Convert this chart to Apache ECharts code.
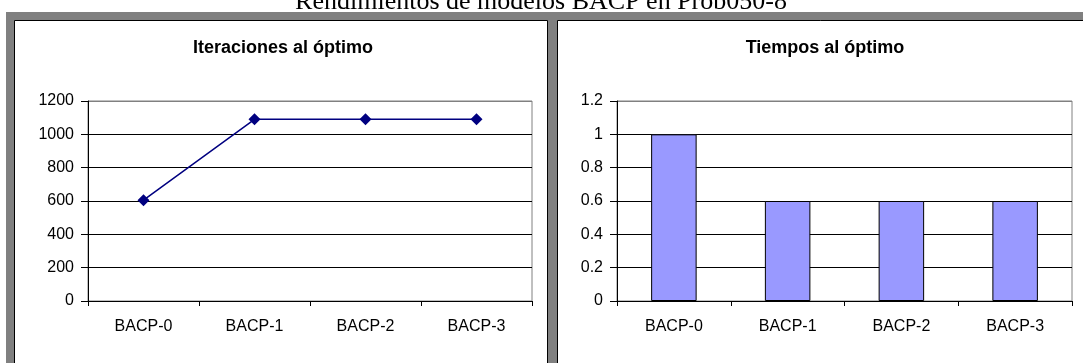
<!DOCTYPE html>
<html><head><meta charset="utf-8">
<script src="https://cdn.jsdelivr.net/npm/echarts@6/dist/echarts.min.js"></script>
<style>html,body{margin:0;padding:0;background:#fff}#c{width:1083px;height:363px}</style>
</head><body><div id="c"></div>
<script>
const categories = ['BACP-0','BACP-1','BACP-2','BACP-3'];
const iteraciones = [605, 1090, 1090, 1090];
const tiempos = [1, 0.6, 0.6, 0.6];
const mainTitle = 'Rendimientos de modelos BACP en Prob050-8';
const leftTitle = 'Iteraciones al óptimo';
const rightTitle = 'Tiempos al óptimo';

const chart = echarts.init(document.getElementById('c'), null, {renderer:'canvas'});
const font = 'Arial, "Liberation Sans", sans-serif';
const gridLineColors = ['#000','#000','#000','#000','#000','#000','#808080'];
function xAxis(gi){
  return {type:'category', gridIndex:gi, data:categories,
    axisLine:{lineStyle:{color:'#000',width:1}},
    axisTick:{show:true, alignWithLabel:false, length:5, lineStyle:{color:'#000'}},
    axisLabel:{color:'#000', fontFamily:font, fontSize:16, margin:18},
    splitLine:{show:false}};
}
function yAxis(gi,max,interval){
  return {type:'value', gridIndex:gi, min:0, max:max, interval:interval,
    axisLine:{show:true, lineStyle:{color:'#000',width:1}},
    axisTick:{show:true, length:7, lineStyle:{color:'#000'}},
    axisLabel:{color:'#000', fontFamily:font, fontSize:16, margin:14, formatter:function(v){return String(v);}},
    splitLine:{show:true, lineStyle:{color:gridLineColors, width:1}}};
}
chart.setOption({
  animation:false,
  graphic:[
    {type:'rect', shape:{x:6,y:12,width:1200,height:500}, style:{fill:'#808080'}, z:-10},
    {type:'rect', shape:{x:14.5,y:20.5,width:533,height:500}, style:{fill:'#fff', stroke:'#000', lineWidth:1}, z:-9},
    {type:'rect', shape:{x:557.5,y:20.5,width:600,height:500}, style:{fill:'#fff', stroke:'#000', lineWidth:1}, z:-9},
    {type:'text', x:541, y:2, style:{text:mainTitle, fill:'#000', font:'26px "Liberation Serif", "Times New Roman", serif', align:'center', verticalAlign:'middle'}, z:5}
  ],
  title:[
    {text:leftTitle, left:278, top:34, textAlign:'center', textStyle:{fontFamily:font, fontSize:18, fontWeight:'bold', color:'#000'}},
    {text:rightTitle, left:820, top:34, textAlign:'center', textStyle:{fontFamily:font, fontSize:18, fontWeight:'bold', color:'#000'}}
  ],
  grid:[
    {left:88, top:101, width:444, height:200, show:true, borderColor:'#808080', borderWidth:1, backgroundColor:'#fff'},
    {left:617, top:101, width:455, height:200, show:true, borderColor:'#808080', borderWidth:1, backgroundColor:'#fff'}
  ],
  xAxis:[xAxis(0), xAxis(1)],
  yAxis:[yAxis(0,1200,200), yAxis(1,1.2,0.2)],
  series:[
    {type:'line', xAxisIndex:0, yAxisIndex:0, data:iteraciones, symbol:'diamond', symbolSize:12,
      lineStyle:{color:'#000080', width:1.5}, itemStyle:{color:'#000080'}},
    {type:'bar', xAxisIndex:1, yAxisIndex:1, data:tiempos, barWidth:'40%',
      itemStyle:{color:'#9999FF', borderColor:'#000', borderWidth:1}}
  ]
});
</script></body></html>
